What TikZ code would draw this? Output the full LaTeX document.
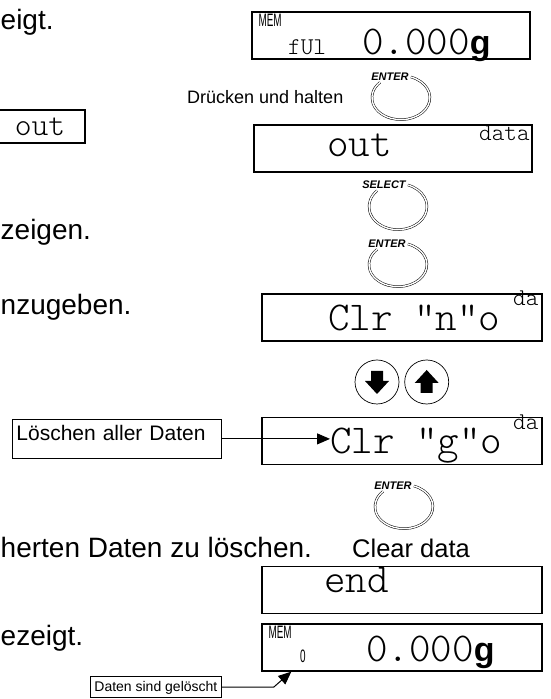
\documentclass[tikz,border=0pt]{standalone}
\usepackage{fontspec}
\setmainfont{Liberation Sans}
\setmonofont{Latin Modern Mono Light}
\usetikzlibrary{arrows.meta,positioning}

\newcommand{\lcdfont}{\ttfamily\fontsize{41}{41}\selectfont}
\newcommand{\lcdsubfont}{\ttfamily\fontsize{24}{24}\selectfont}
\newcommand{\narrow}[1]{\scalebox{0.55}[1]{#1}}
\newcommand{\unitg}{{\rmfamily\bfseries\fontsize{34}{34}\selectfont g}}

\begin{document}
\begin{tikzpicture}[
  x=1pt, y=1pt,
  lcdbox/.style={draw, line width=1.3pt, minimum width=280pt, minimum height=47pt, inner sep=0pt},
  notebox/.style={draw, line width=0.8pt, inner xsep=4pt, inner ysep=2.5pt, align=left},
  bigtext/.style={font=\fontsize{28}{30}\selectfont, inner sep=0pt},
  smalltext/.style={font=\fontsize{18}{20}\selectfont, inner sep=0pt},
  lcdtext/.style={font=\lcdfont, inner sep=0pt},
  subtext/.style={font=\lcdsubfont, inner sep=0pt},
  memtext/.style={font=\fontsize{18}{18}\selectfont, inner sep=0pt},
  keylabel/.style={font=\fontsize{11}{11}\selectfont\bfseries\itshape, inner sep=0pt},
  ring/.style={double, double distance=1.4pt, line width=0.5pt},
  arrowkey/.style={draw, circle, line width=0.7pt, minimum size=44pt, inner sep=0pt},
  pointer/.style={-{Triangle[length=13pt, width=11pt]}, line width=1pt}
]
  \useasboundingbox (0,0) rectangle (550,699);
  \clip (0,0) rectangle (550,699);

  % cut-off text on the left
  \node[bigtext, anchor=base west] (t1) at (0.5,669) {eigt.};
  \node[draw, line width=1.3pt, font=\ttfamily\fontsize{32}{32}\selectfont,
        minimum width=90pt, minimum height=33pt, inner sep=0pt] (outleft) at (40,572.5) {out};
  \node[bigtext, anchor=base west] (t2) at (0.5,459) {zeigen.};
  \node[bigtext, anchor=base west] (t3) at (0.5,384) {nzugeben.};
  \node[bigtext, anchor=base west] (t4) at (0.5,141) {herten Daten zu löschen.};
  \node[bigtext, anchor=base west] (t5) at (0.5,53) {ezeigt.};

  % displays
  \node[lcdbox, minimum width=278pt] (d1) at (391,663.5) {};
  \node[memtext, anchor=north west] (d1mem) at ([xshift=7pt,yshift=-3pt]d1.north west) {\narrow{MEM}};
  \node[subtext, anchor=base west] (d1ful) at (288,644) {fUl};
  \node[lcdtext, anchor=base west] (d1val) at (362,644) {0.000\unitg};

  \node[lcdbox, minimum width=278pt] (d2) at (393,550.5) {};
  \node[lcdtext, anchor=base west] (d2out) at (327,542) {out};
  \node[subtext, anchor=base west] (d2data) at (479,558) {data};

  \node[lcdbox] (d3) at (402,381.5) {};
  \node[lcdtext, anchor=base west] (d3clr) at (328,368) {Clr "n"o};
  \node[subtext, anchor=base west] (d3da) at (513,393) {da};

  \node[lcdbox] (d4) at (402,258) {};
  \node[lcdtext, anchor=base west] (d4clr) at (330,245) {Clr "g"o};
  \node[subtext, anchor=base west] (d4da) at (513,269) {da};

  \node[lcdbox] (d5) at (402,109) {};
  \node[lcdtext, anchor=base west] (d5end) at (324,106) {end};

  \node[lcdbox] (d6) at (402,51.5) {};
  \node[memtext, anchor=north west] (d6mem) at ([xshift=7pt,yshift=-3pt]d6.north west) {\narrow{MEM}};
  \node[memtext, anchor=base west] (d6zero) at (300,36) {\narrow{0}};
  \node[lcdtext, anchor=base west] (d6val) at (366,37) {0.000\unitg};

  % keys
  \node[keylabel] (enter1) at (390,622) {ENTER};
  \draw[ring] ([xshift=2pt]enter1.east) arc[start angle=70, end angle=-224, x radius=29, y radius=22];
  \node[smalltext, anchor=base west] (hold) at (187,595) {Drücken und halten};

  \node[keylabel] (select) at (384,514) {SELECT};
  \draw[ring] ([xshift=2pt]select.east) arc[start angle=70, end angle=-224, x radius=29, y radius=23];

  \node[keylabel] (enter2) at (387,455) {ENTER};
  \draw[ring] ([xshift=2pt]enter2.east) arc[start angle=70, end angle=-224, x radius=29, y radius=22];

  \node[arrowkey] (down) at (377,317) {};
  \node[arrowkey, right=5pt of down] (up) {};
  \fill (down.center) ++(-6,11) -- ++(12,0) -- ++(0,-10) -- ++(6,0) -- ++(-12,-13) -- ++(-12,13) -- ++(6,0) -- cycle;
  \fill (up.center) ++(-6,-11) -- ++(12,0) -- ++(0,10) -- ++(6,0) -- ++(-12,13) -- ++(-12,-13) -- ++(6,0) -- cycle;

  \node[keylabel] (enter3) at (393,213) {ENTER};
  \draw[ring] ([xshift=2pt]enter3.east) arc[start angle=70, end angle=-224, x radius=29, y radius=22];
  \node[bigtext, font=\fontsize{25.5}{30}\selectfont, anchor=base west] (cleartxt) at (352,141) {Clear data};

  % notes
  \node[notebox, font=\fontsize{21}{24}\selectfont, text width=201pt, text height=18.5pt, text depth=15.5pt,
        anchor=north west] (clearall) at (12,280) {Löschen aller Daten};
  \draw[pointer] (clearall.east) -- (clearall.east -| d4clr.west);

  \node[notebox, font=\fontsize{14}{16}\selectfont, text height=12pt, text depth=4pt,
        anchor=south west] (cleared) at (90,1) {Daten sind gelöscht};
  \coordinate (tip) at ([xshift=30pt]d6.south west);
  \draw[pointer] (cleared.east) -- ++(52,0) -- (tip);
\end{tikzpicture}
\end{document}
